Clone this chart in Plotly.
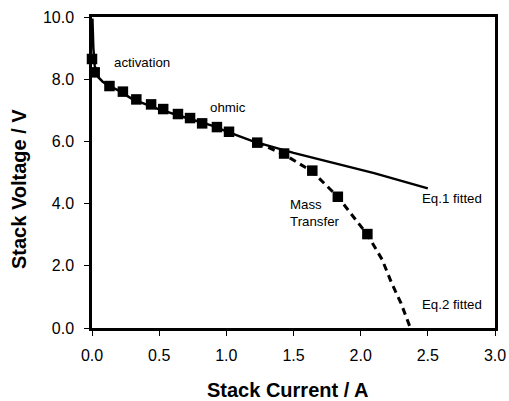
import plotly.graph_objects as go

# measured data
current = [0.0, 0.02, 0.13, 0.23, 0.33, 0.44, 0.53, 0.64, 0.73, 0.82, 0.93, 1.02, 1.23, 1.43, 1.64, 1.83, 2.05]
voltage = [8.65, 8.22, 7.78, 7.60, 7.35, 7.19, 7.04, 6.88, 6.75, 6.58, 6.46, 6.31, 5.96, 5.61, 5.06, 4.22, 3.02]

# Eq.1 fitted curve
eq1_x = [0.003, 0.01, 0.02, 0.03, 0.05, 0.08, 0.13, 0.2, 0.3, 0.4, 0.5, 0.7, 0.9, 1.0, 1.2, 1.5, 1.8, 2.1, 2.5]
eq1_y = [9.95, 9.0, 8.45, 8.2, 8.05, 7.92, 7.78, 7.63, 7.36, 7.19, 7.03, 6.76, 6.50, 6.32, 6.00, 5.63, 5.30, 4.98, 4.49]

# Eq.2 fitted curve
eq2_x = [1.23, 1.43, 1.64, 1.83, 2.05, 2.16, 2.23, 2.30, 2.37]
eq2_y = [5.96, 5.58, 5.03, 4.22, 3.00, 2.20, 1.45, 0.80, 0.0]

x_ticks = [0.0, 0.5, 1.0, 1.5, 2.0, 2.5, 3.0]
y_ticks = [0.0, 2.0, 4.0, 6.0, 8.0, 10.0]

fig = go.Figure()
fig.add_trace(go.Scatter(x=eq2_x, y=eq2_y, mode="lines",
                         line=dict(color="black", width=3, dash="7px,5px")))
fig.add_trace(go.Scatter(x=eq1_x, y=eq1_y, mode="lines",
                         line=dict(color="black", width=2.5)))
fig.add_trace(go.Scatter(x=current, y=voltage, mode="markers", cliponaxis=False,
                         marker=dict(symbol="square", size=10.5, color="black")))

font = "Liberation Sans, Arial, sans-serif"
ann = [
    dict(x=0.37, y=8.55, text="activation", xanchor="center"),
    dict(x=1.01, y=7.1, text="ohmic", xanchor="center"),
    dict(x=1.46, y=3.7, text="Mass<br>Transfer", xanchor="left", align="left"),
    dict(x=2.44, y=4.15, text="Eq.1 fitted", xanchor="left"),
    dict(x=2.44, y=0.77, text="Eq.2 fitted", xanchor="left"),
]
for a in ann:
    a.update(showarrow=False, font=dict(family=font, size=13.3, color="black"), yanchor="middle")

# axis titles placed as paper annotations
ann.append(dict(xref="paper", yref="paper", x=(288 - 92) / 403, y=(328 - 390) / 311,
                text="<b>Stack Current / A</b>", showarrow=False,
                xanchor="center", yanchor="middle",
                font=dict(family=font, size=20, color="black")))
ann.append(dict(xref="paper", yref="paper", x=(19 - 92) / 403, y=(328 - 189) / 311,
                text="<b>Stack Voltage / V</b>", showarrow=False, textangle=-90,
                xanchor="center", yanchor="middle",
                font=dict(family=font, size=20, color="black")))

fig.update_layout(
    width=509, height=401,
    margin=dict(l=92, r=14, t=17, b=73),
    paper_bgcolor="white", plot_bgcolor="white",
    showlegend=False,
    font=dict(family=font, color="black"),
    annotations=ann,
    xaxis=dict(range=[0, 3.0], tickvals=x_ticks, ticktext=[f"{v:.1f}" for v in x_ticks],
               ticks="outside", ticklen=5, tickwidth=1, tickcolor="black",
               showline=True, linecolor="black", linewidth=2.5, mirror=True,
               showgrid=False, zeroline=False, tickfont=dict(size=16),
               ticklabelstandoff=6, automargin=False),
    yaxis=dict(range=[0, 10.0], tickvals=y_ticks, ticktext=[f"{v:.1f}" for v in y_ticks],
               ticks="outside", ticklen=5, tickwidth=1, tickcolor="black",
               showline=True, linecolor="black", linewidth=2.5, mirror=True,
               showgrid=False, zeroline=False, tickfont=dict(size=16),
               ticklabelstandoff=7, automargin=False),
)

fig.write_html("out.html")
